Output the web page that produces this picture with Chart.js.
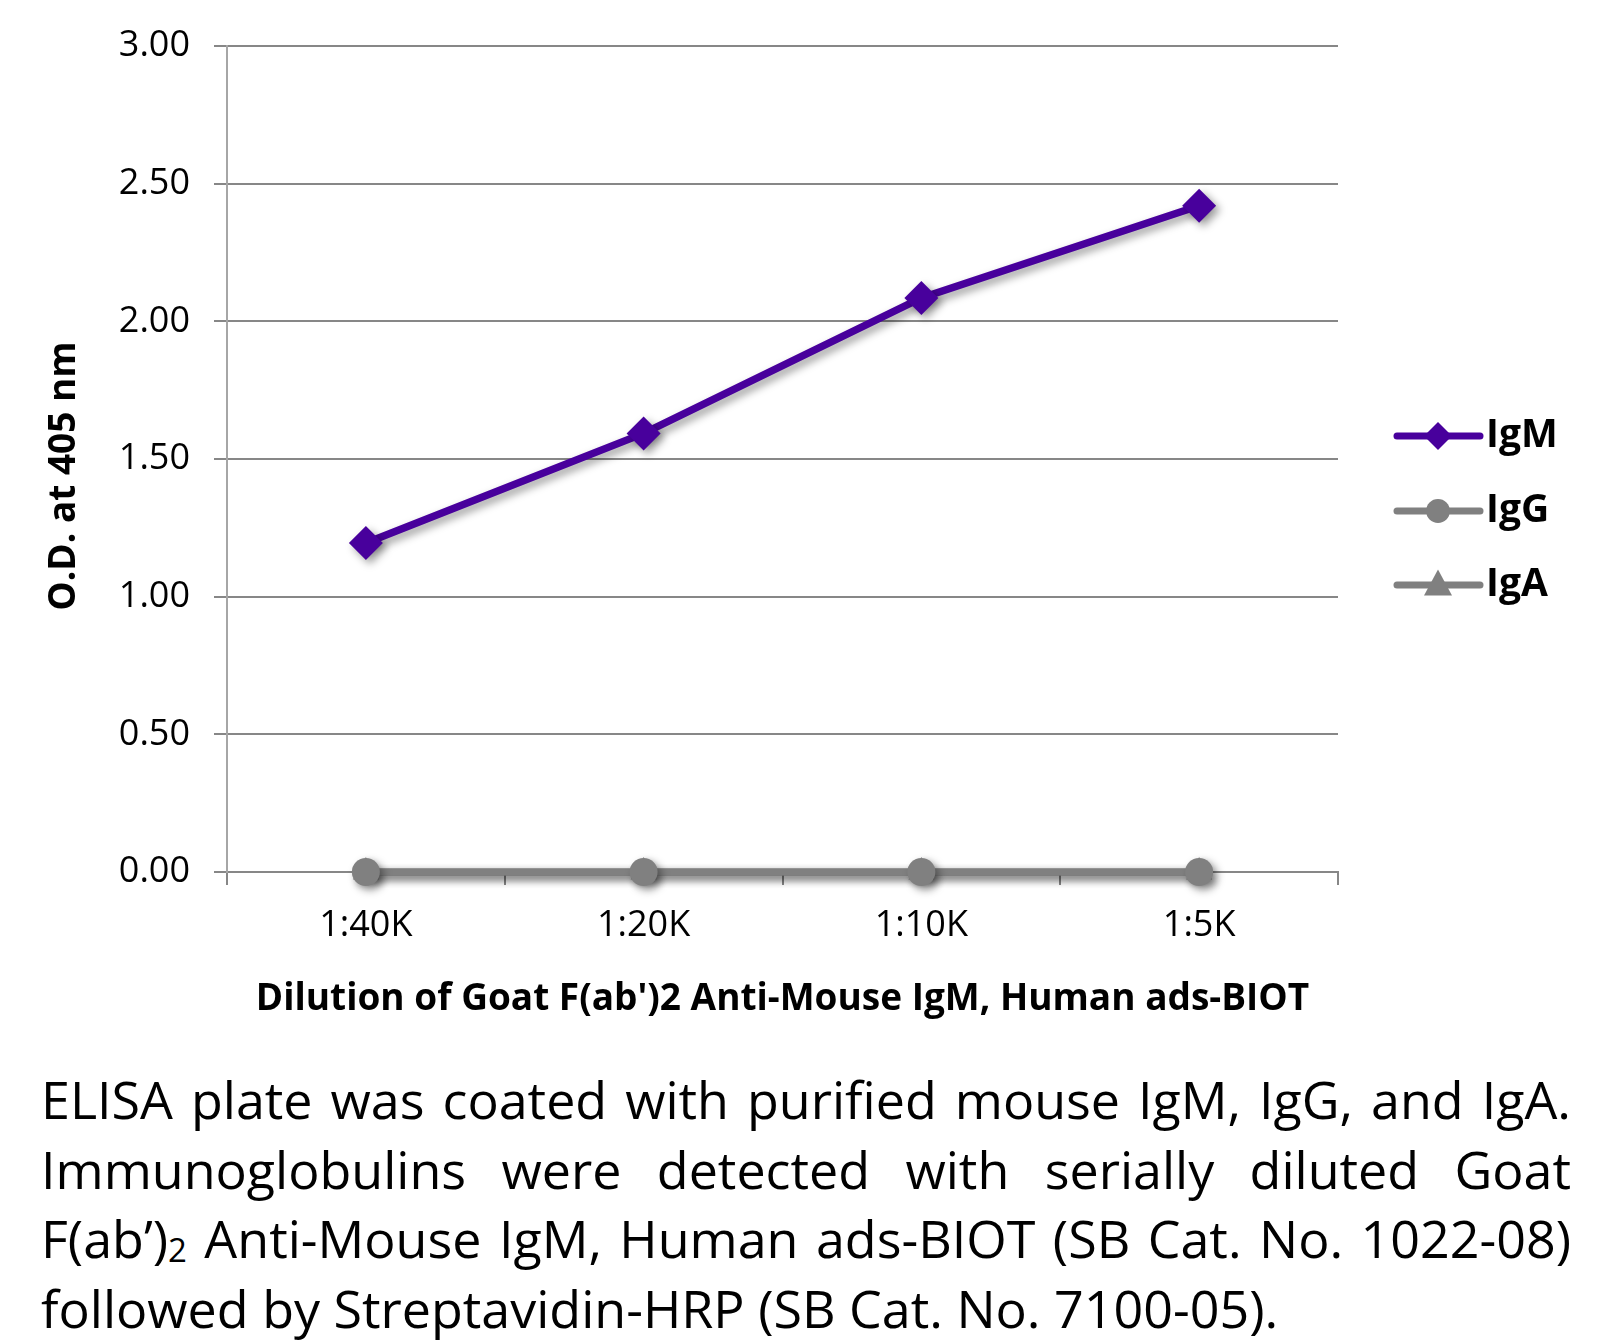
<!DOCTYPE html>
<html lang="en">
<head>
<meta charset="UTF-8" />
<title>ELISA IgM Chart</title>
<script src="https://cdn.jsdelivr.net/npm/chart.js"></script>
<style>
  html, body { margin: 0; padding: 0; background: #fff; }
  body { width: 1605px; height: 1344px; position: relative; overflow: hidden; }
  #myChart { position: absolute; left: 0; top: 0; }
  #caption {
    position: absolute; left: 41px; top: 1064px; width: 1530px;
    font-family: "Open Sans", sans-serif; font-size: 52px; line-height: 69.5px; color: #000;
  }
  #caption div { white-space: nowrap; }
  #caption .j { text-align: justify; text-align-last: justify; }
  #caption sub { font-size: 33px; vertical-align: -4px; line-height: 0; }
</style>
</head>
<body>
<canvas id="myChart" width="1605" height="1030"></canvas>
<div id="caption">
  <div class="j">ELISA plate was coated with purified mouse IgM, IgG, and IgA.</div>
  <div class="j">Immunoglobulins were detected with serially diluted Goat</div>
  <div class="j">F(ab’)<sub>2</sub> Anti-Mouse IgM, Human ads-BIOT (SB Cat. No. 1022-08)</div>
  <div>followed by Streptavidin-HRP (SB Cat. No. 7100-05).</div>
</div>
<script>
  const dilutions = ["1:40K", "1:20K", "1:10K", "1:5K"];
  const igmValues = [1.195, 1.593, 2.085, 2.42];
  const iggValues = [0, 0, 0, 0];
  const igaValues = [0, 0, 0, 0];
  const yTitle = "O.D. at 405 nm";

  const PURPLE = "#48009c";
  const GREY = "#808080";
  const GRID = "#878787";
  const FONT = '"Open Sans", sans-serif';

  // drop shadow under the series, like the office chart
  const shadowPlugin = {
    id: "shadow",
    beforeDatasetsDraw(chart) {
      const ctx = chart.ctx;
      ctx.save();
      ctx.shadowColor = "rgba(0,0,0,0.4)";
      ctx.shadowBlur = 9;
      ctx.shadowOffsetX = 4;
      ctx.shadowOffsetY = 4;
    },
    afterDatasetsDraw(chart) {
      chart.ctx.restore();
    },
  };

  // y title sits a bit below the plot centre in the original
  const yTitlePlugin = {
    id: "yTitle",
    afterDraw(chart) {
      const ctx = chart.ctx;
      ctx.save();
      ctx.translate(64, 476);
      ctx.rotate(-Math.PI / 2);
      ctx.font = "bold 37px " + FONT;
      ctx.fillStyle = "#000";
      ctx.textAlign = "center";
      ctx.textBaseline = "middle";
      ctx.fillText(yTitle, 0, 0);
      ctx.restore();
    },
  };

  function marker(ctx, style, x, y, r) {
    ctx.beginPath();
    if (style === "rectRot") {
      ctx.moveTo(x, y - r); ctx.lineTo(x + r, y); ctx.lineTo(x, y + r); ctx.lineTo(x - r, y);
    } else if (style === "triangle") {
      ctx.moveTo(x, y - r * 1.1); ctx.lineTo(x + r, y + r * 0.75); ctx.lineTo(x - r, y + r * 0.75);
    } else {
      ctx.arc(x, y, r * 0.85, 0, Math.PI * 2);
    }
    ctx.closePath();
    ctx.fill();
  }

  // legend with line + marker on the right side
  const sideLegend = {
    id: "sideLegend",
    afterDraw(chart) {
      const ctx = chart.ctx;
      const rows = [436, 511, 585];
      ctx.save();
      chart.data.datasets.forEach((ds, i) => {
        const y = rows[i];
        ctx.strokeStyle = ds.borderColor;
        ctx.fillStyle = ds.backgroundColor;
        ctx.lineWidth = 7;
        ctx.lineCap = "round";
        ctx.beginPath();
        ctx.moveTo(1397, y);
        ctx.lineTo(1480, y);
        ctx.stroke();
        marker(ctx, ds.pointStyle, 1438, y, 14);
        ctx.fillStyle = "#000";
        ctx.font = "bold 39px " + FONT;
        ctx.textBaseline = "middle";
        ctx.textAlign = "left";
        ctx.fillText(ds.label, 1486, y);
      });
      ctx.restore();
    },
  };

  const ctx = document.getElementById("myChart").getContext("2d");
  new Chart(ctx, {
    type: "line",
    data: {
      labels: dilutions,
      datasets: [
        {
          label: "IgM", data: igmValues, borderColor: PURPLE, backgroundColor: PURPLE,
          borderWidth: 7.5, pointStyle: "rectRot", pointRadius: 17, pointHoverRadius: 17,
          pointBorderWidth: 0, clip: false, tension: 0,
        },
        {
          label: "IgG", data: iggValues, borderColor: GREY, backgroundColor: GREY,
          borderWidth: 7, pointStyle: "circle", pointRadius: 14, pointHoverRadius: 14,
          pointBorderWidth: 0, clip: false, tension: 0,
        },
        {
          label: "IgA", data: igaValues, borderColor: GREY, backgroundColor: GREY,
          borderWidth: 7, pointStyle: "triangle", pointRadius: 15, pointHoverRadius: 15,
          pointBorderWidth: 0, clip: false, tension: 0,
        },
      ],
    },
    options: {
      responsive: false,
      animation: false,
      layout: { padding: { left: 0, right: 267, top: 46, bottom: 0 } },
      plugins: { legend: { display: false }, tooltip: { enabled: false } },
      scales: {
        x: {
          offset: true,
          grid: { offset: true, drawOnChartArea: false, drawTicks: true, tickLength: 13, tickColor: GRID, lineWidth: 2 },
          border: { color: GRID, width: 2 },
          ticks: { color: "#000", font: { family: FONT, size: 36 }, padding: 19 },
          title: {
            display: true, text: "Dilution of Goat F(ab')2 Anti-Mouse IgM, Human ads-BIOT",
            color: "#000", font: { family: FONT, size: 37, weight: "bold" }, padding: { top: 0, bottom: 8 },
          },
          afterFit(scale) { scale.height = 158; },
        },
        y: {
          min: 0, max: 3,
          grid: { color: GRID, lineWidth: 2, tickLength: 13 },
          border: { color: "#a6a6a6", width: 2 },
          ticks: {
            stepSize: 0.5, color: "#000", padding: 24,
            font: { family: FONT, size: 36 },
            callback: (v) => Number(v).toFixed(2),
          },
          afterFit(scale) { scale.width = 227; },
        },
      },
    },
    plugins: [shadowPlugin, sideLegend, yTitlePlugin],
  });
</script>
</body>
</html>
